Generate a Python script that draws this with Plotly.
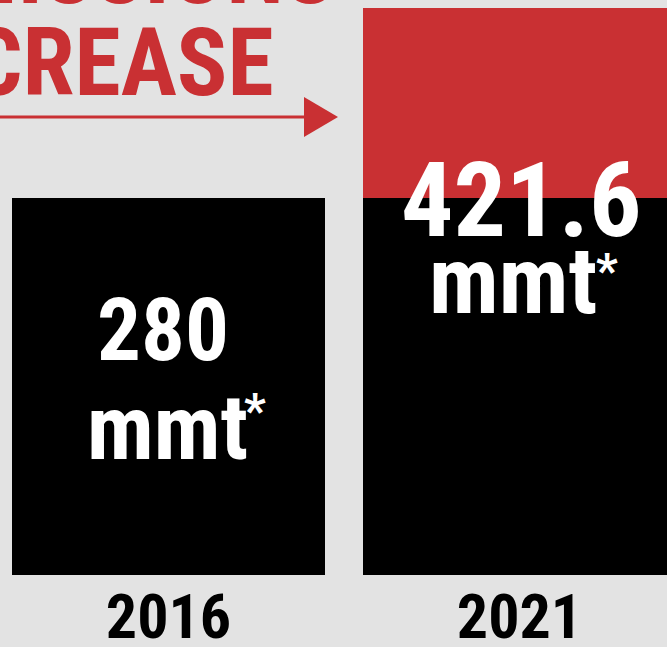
import plotly.graph_objects as go

# ---- data ----
years = ["2016", "2021"]
emissions = [280, 421.6]          # million metric tons
value_labels = ["280", "421.6"]
unit_label = "mmt"
footnote_mark = "*"
title_lines = ["EMISSIONS", "INCREASE"]

base = [emissions[0], emissions[0]]
increase = [0, round(emissions[1] - emissions[0], 1)]

# ---- layout constants ----
W, H = 667, 647
MB = 72
PH = H - MB
RED = "#C93033"
BLACK = "#000000"
BG = "#e3e3e3"
FONT = "Roboto Condensed, Noto Sans, DejaVu Sans Condensed, sans-serif"

def pxx(px):
    return px / W

def pxy(py):
    return (PH - py) / PH

fig = go.Figure()
fig.add_trace(go.Bar(x=years, y=base, marker=dict(color=BLACK, line=dict(width=0)),
                     width=0.892, hoverinfo="skip"))
fig.add_trace(go.Bar(x=years, y=increase, marker=dict(color=RED, line=dict(width=0)),
                     width=0.892, hoverinfo="skip"))

ann = []
def add_text(text, x, baseline_py, size, xshift=0, color="white", xref="x", xanchor="center"):
    ann.append(dict(text=text, x=x, xref=xref, y=pxy(baseline_py + 0.24 * size), yref="paper",
                    yanchor="bottom", xanchor=xanchor, xshift=xshift, showarrow=False,
                    font=dict(family=FONT, size=size, color=color, weight="bold")))

add_text(value_labels[0], 0, 362, 87, xshift=-5)
add_text(unit_label, 0, 461, 90, xshift=-1)
add_text(footnote_mark, pxx(255), 429, 48, xref="paper")
add_text(value_labels[1], 1, 238, 104, xshift=2)
add_text(unit_label, 1, 315, 94, xshift=-6)
add_text(footnote_mark, pxx(607), 289, 48, xref="paper")

add_text(title_lines[0], pxx(337), 5, 94, color=RED, xref="paper", xanchor="right")
add_text(title_lines[1], pxx(276), 97, 94, color=RED, xref="paper", xanchor="right")

shapes = [
    dict(type="line", xref="paper", yref="paper", x0=pxx(-2), x1=pxx(306), y0=pxy(117), y1=pxy(117),
         line=dict(color=RED, width=3)),
    dict(type="path", xref="paper", yref="paper",
         path=f"M {pxx(304)},{pxy(97)} L {pxx(338)},{pxy(117)} L {pxx(304)},{pxy(137)} Z",
         fillcolor=RED, line=dict(width=0)),
]

ymax = PH / (PH - 7.5) * emissions[1]

fig.update_layout(
    width=W, height=H,
    margin=dict(l=0, r=0, t=0, b=MB, autoexpand=False),
    paper_bgcolor=BG, plot_bgcolor=BG,
    barmode="stack", showlegend=False,
    annotations=ann, shapes=shapes,
    xaxis=dict(type="category", range=[-0.48, 1.4203], showgrid=False, zeroline=False,
               showline=False, ticks="", automargin=False, ticklabelstandoff=0,
               tickfont=dict(family=FONT, size=62, color=BLACK, weight="bold")),
    yaxis=dict(range=[0, ymax], visible=False, showgrid=False, zeroline=False),
)

post = (
    "document.body.style.margin='0';"
    "var s=document.createElement('style');"
    "s.textContent='.main-svg text{font-stretch:62.5% !important;}';"
    "document.head.appendChild(s);"
)

fig.write_html("out.html", post_script=post, config={"displayModeBar": False})
